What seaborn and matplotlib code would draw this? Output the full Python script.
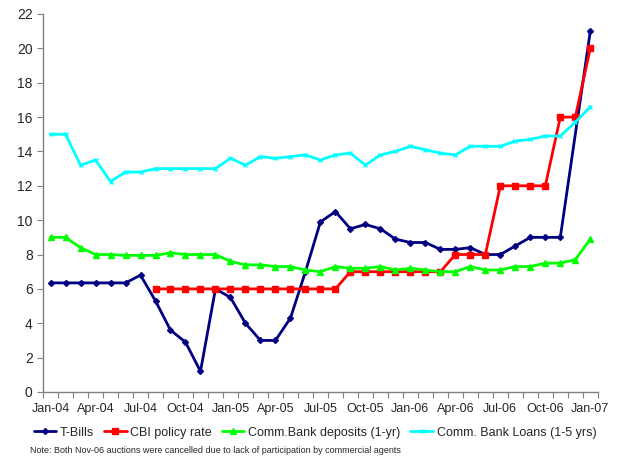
import numpy as np
import pandas as pd
import matplotlib
matplotlib.use("Agg")
import matplotlib.pyplot as plt
import seaborn as sns

# monthly, Jan-04 .. Jan-07 (37 months)
months = pd.date_range("2004-01-01", "2007-01-01", freq="MS").strftime("%b-%y").tolist()
tick_labels = ["Jan-04", "Apr-04", "Jul-04", "Oct-04", "Jan-05", "Apr-05", "Jul-05",
               "Oct-05", "Jan-06", "Apr-06", "Jul-06", "Oct-06", "Jan-07"]

t_bills = [6.35, 6.35, 6.35, 6.35, 6.35, 6.35, 6.8, 5.3, 3.6, 2.9, 1.2, 6.0,
           5.5, 4.0, 3.0, 3.0, 4.3, 7.0, 9.9, 10.5, 9.5, 9.75, 9.5, 8.9,
           8.7, 8.7, 8.3, 8.3, 8.4, 8.0, 8.0, 8.5, 9.0, 9.0, 9.0, np.nan, 21.0]
cbi_rate = [np.nan] * 7 + [6.0] * 13 + [7.0] * 7 + [8.0] * 3 + [12.0] * 4 + [16.0, 16.0, 20.0]
deposits = [9.0, 9.0, 8.4, 8.0, 8.0, 7.95, 7.95, 7.95, 8.1, 8.0, 8.0, 8.0,
            7.6, 7.4, 7.4, 7.3, 7.3, 7.1, 7.0, 7.3, 7.2, 7.2, 7.3, 7.1,
            7.2, 7.1, 7.0, 7.0, 7.3, 7.1, 7.1, 7.3, 7.3, 7.5, 7.5, 7.7, 8.9]
loans = [15.0, 15.0, 13.2, 13.5, 12.25, 12.8, 12.8, 13.0, 13.0, 13.0, 13.0, 13.0,
         13.6, 13.2, 13.7, 13.6, 13.7, 13.8, 13.5, 13.8, 13.9, 13.2, 13.8, 14.0,
         14.3, 14.1, 13.9, 13.8, 14.3, 14.3, 14.3, 14.6, 14.7, 14.9, 14.9, 15.7, 16.6]

series = [
    ("T-Bills", t_bills, "#000080", "D", 3),
    ("CBI policy rate", cbi_rate, "#FF0000", "s", 4),
    ("Comm.Bank deposits (1-yr)", deposits, "#00FF00", "^", 4.5),
    ("Comm. Bank Loans (1-5 yrs)", loans, "#00FFFF", "x", 3.5),
]

sns.set_style("white")
plt.rcParams["font.family"] = ["Liberation Sans", "DejaVu Sans"]

fig = plt.figure(figsize=(6.24, 4.59), dpi=100)
ax = fig.add_axes([0.069, 0.146, 0.889, 0.8235])

for name, vals, col, mk, ms in series:
    df = pd.DataFrame({"k": np.arange(len(months)), "v": vals}).dropna()
    sns.lineplot(data=df, x="k", y="v", ax=ax, color=col, marker=mk, markersize=ms,
                 markeredgecolor=col, markeredgewidth=1, linewidth=2, label=name)

ax.set_xlim(-0.5, len(months) - 0.5)
ax.set_ylim(0, 22)
ax.set_yticks(range(0, 23, 2))
ax.set_xticks(np.arange(-0.5, len(months), 1))
ax.set_xticklabels([])
ax.set_xticks(range(0, len(months), 3), minor=True)
ax.set_xticklabels(tick_labels, minor=True)
ax.tick_params(axis="x", which="major", length=4, color="#808080", direction="out", bottom=True)
ax.tick_params(axis="x", which="minor", length=0, labelsize=9, pad=8)
ax.tick_params(axis="y", length=4, color="#808080", direction="out", left=True, labelsize=10)
ax.set_xlabel("")
ax.set_ylabel("")
for s in ["top", "right"]:
    ax.spines[s].set_visible(False)
for s in ["left", "bottom"]:
    ax.spines[s].set_color("#808080")
    ax.spines[s].set_linewidth(1)

ax.legend(loc="center", bbox_to_anchor=(0.49, -0.108), ncol=4, frameon=False,
          fontsize=9, handlelength=1.8, handletextpad=0.3, columnspacing=0.8,
          borderaxespad=0, borderpad=0)
fig.text(0.048, 0.012, "Note: Both Nov-06 auctions were cancelled due to lack of participation by commercial agents",
         fontsize=6.5)

fig.savefig("out.png", dpi=100)
